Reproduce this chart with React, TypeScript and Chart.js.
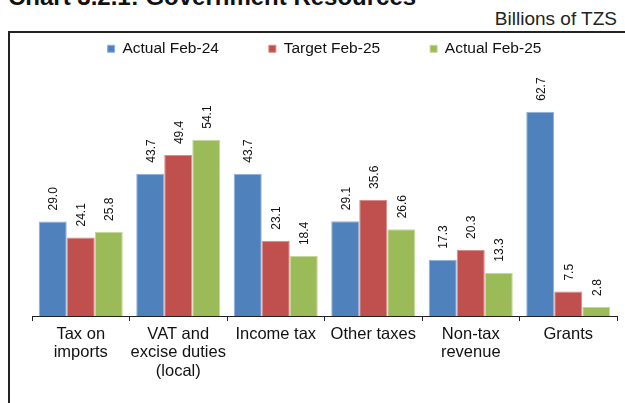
import React, { useEffect, useRef } from "react";
import { Chart, registerables } from "chart.js";

Chart.register(...registerables);

const categories: string[][] = [
  ["Tax on", "imports"],
  ["VAT and", "excise duties", "(local)"],
  ["Income tax"],
  ["Other taxes"],
  ["Non-tax", "revenue"],
  ["Grants"],
];
const seriesNames = ["Actual Feb-24", "Target Feb-25", "Actual Feb-25"];
const actualFeb24 = [29.0, 43.7, 43.7, 29.1, 17.3, 62.7];
const targetFeb25 = [24.1, 49.4, 23.1, 35.6, 20.3, 7.5];
const actualFeb25 = [25.8, 54.1, 18.4, 26.6, 13.3, 2.8];
const seriesColors = ["#4F81BD", "#C0504D", "#9BBB59"];
const seriesBorders = ["#8fb0d8", "#d98c8a", "#c3d89a"];

const FONT = "Arial, 'Liberation Sans', Helvetica, sans-serif";

const barLabels = {
  id: "barLabels",
  afterDatasetsDraw(chart: any) {
    const ctx = chart.ctx;
    ctx.save();
    ctx.font = `12px ${FONT}`;
    ctx.fillStyle = "#111";
    ctx.textAlign = "left";
    ctx.textBaseline = "middle";
    chart.data.datasets.forEach((ds: any, di: number) => {
      const meta = chart.getDatasetMeta(di);
      meta.data.forEach((bar: any, i: number) => {
        const v = ds.data[i] as number;
        ctx.save();
        ctx.translate(bar.x + 1, bar.y - 11);
        ctx.rotate(-Math.PI / 2);
        ctx.fillText(v.toFixed(1), 0, 0);
        ctx.restore();
      });
    });
    ctx.restore();
  },
};

export default function App() {
  const ref = useRef<HTMLCanvasElement>(null);
  useEffect(() => {
    if (!ref.current) return;
    const data = [actualFeb24, targetFeb25, actualFeb25];
    const chart = new Chart(ref.current, {
      type: "bar",
      data: {
        labels: categories,
        datasets: seriesNames.map((name, i) => ({
          label: name,
          data: data[i],
          backgroundColor: seriesColors[i],
          borderColor: seriesBorders[i],
          borderWidth: 1,
          categoryPercentage: 0.862,
          barPercentage: 1,
        })),
      },
      options: {
        animation: false,
        responsive: false,
        maintainAspectRatio: false,
        layout: { padding: { left: 10, right: 8, top: 0, bottom: 0 } },
        plugins: {
          tooltip: { enabled: false },
          legend: {
            position: "top",
            align: "center",
            labels: {
              boxWidth: 7,
              boxHeight: 7,
              padding: 50,
              color: "#111",
              font: { family: FONT, size: 15.5 },
            },
          },
        },
        scales: {
          x: {
            grid: {
              display: true,
              drawOnChartArea: false,
              drawTicks: true,
              tickLength: 5,
              color: "#222",
              offset: true,
            },
            border: { display: true, color: "#222", width: 1 },
            ticks: {
              color: "#111",
              padding: 4,
              maxRotation: 0,
              autoSkip: false,
              font: { family: FONT, size: 16.5, lineHeight: 1.12 },
            },
            afterFit: (scale: any) => {
              scale.height = 87;
            },
          },
          y: {
            display: false,
            min: 0,
            max: 76.6,
          },
        },
      },
      plugins: [barLabels],
    });
    return () => chart.destroy();
  }, []);

  return (
    <div
      style={{
        position: "fixed",
        left: 0,
        top: 0,
        width: 625,
        height: 403,
        overflow: "hidden",
        background: "#fff",
        fontFamily: FONT,
      }}
    >
      <div
        style={{
          position: "absolute",
          left: 8,
          top: -15,
          fontSize: 24,
          fontWeight: "bold",
          lineHeight: "24px",
          whiteSpace: "nowrap",
          color: "#111",
        }}
      >
        Chart 3.2.1: Government Resources
      </div>
      <div
        style={{
          position: "absolute",
          right: 8,
          top: 8,
          fontSize: 19,
          lineHeight: "22px",
          whiteSpace: "nowrap",
          color: "#222",
        }}
      >
        Billions of TZS
      </div>
      <div
        style={{
          position: "absolute",
          left: 8,
          top: 31,
          width: 617,
          height: 2,
          background: "#222",
        }}
      />
      <div
        style={{
          position: "absolute",
          left: 8,
          top: 31,
          width: 2,
          height: 372,
          background: "#222",
        }}
      />
      <canvas
        ref={ref}
        width={603}
        height={412}
        style={{ position: "absolute", left: 22, top: -9, width: 603, height: 412 }}
      />
    </div>
  );
}
